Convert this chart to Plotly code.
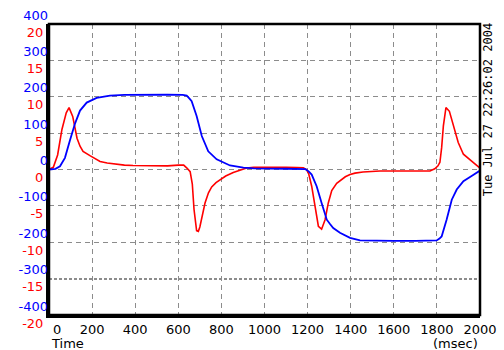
import plotly.graph_objects as go

# ---- data ----
time_red = [0, 20, 40, 60, 80, 93, 110, 121, 130, 144, 158, 190, 237, 270, 314, 350, 390, 450, 500,
            550, 600, 625, 640, 655, 665, 673, 685, 693, 700, 712, 724, 740, 755, 775, 793, 820, 855,
            890, 917, 950, 994, 1050, 1100, 1150, 1180, 1195, 1205, 1219, 1234, 1250, 1265, 1281,
            1296, 1312, 1335, 1350, 1375, 1397, 1420, 1457, 1500, 1536, 1613, 1700, 1768, 1790,
            1805, 1814, 1822, 1830, 1842, 1858, 1876, 1899, 1923, 1954, 1975, 2000]
red_vals = [0, 0.3, 2.0, 5.5, 7.8, 8.5, 7.3, 5.8, 4.3, 3.2, 2.5, 1.9, 1.1, 0.9, 0.7, 0.6, 0.55, 0.5,
            0.55, 0.5, 0.6, 0.6, 0.2, -0.3, -2.0, -5.5, -8.4, -8.5, -7.9, -6.2, -4.6, -3.2, -2.4,
            -1.8, -1.4, -0.9, -0.4, -0.05, 0.2, 0.3, 0.32, 0.3, 0.3, 0.28, 0.25, 0.0, -0.6, -2.3,
            -5.3, -7.8, -8.2, -6.9, -4.6, -2.9, -1.9, -1.6, -1.0, -0.7, -0.5, -0.35, -0.25, -0.2,
            -0.2, -0.2, -0.2, 0.1, 0.5, 1.0, 3.0, 6.0, 8.5, 8.0, 6.0, 3.7, 2.1, 1.4, 0.8, 0.2]

time_blue = [0, 30, 51, 74, 97, 121, 144, 175, 221, 283, 350, 450, 550, 620, 639, 652, 662, 685,
             709, 739, 778, 840, 902, 950, 1000, 1100, 1190, 1205, 1219, 1242, 1265, 1289, 1304,
             1319, 1350, 1397, 1443, 1500, 1600, 1700, 1799, 1812, 1822, 1845, 1869, 1892, 1923,
             1961, 2000]
blue_vals = [0, 2, 9, 32, 80, 127, 162, 184, 197, 203, 205, 206, 206, 205, 203, 195, 188, 147, 92,
             50, 28, 11, 5, 3, 2, 2, 1, -5, -14, -46, -92, -138, -150, -161, -174, -188, -195,
             -196, -196, -196, -195, -190, -184, -138, -83, -55, -32, -18, -3]

x_ticks = [0, 200, 400, 600, 800, 1000, 1200, 1400, 1600, 1800, 2000]
x_ticktext = ["\u00a0\u00a0\u00a0\u00a00", "200", "400", "600", "800", "1000", "1200", "1400",
              "1600", "1800", "2000"]
red_ticks = [-20, -15, -10, -5, 0, 5, 10, 15, 20]
red_ticktext = ["-20", "-15", "-10", "-5", "0", "5", "10", "15", "20"]
blue_ticks = [-400, -300, -200, -100, 0, 100, 200, 300, 400]
blue_ticktext = ["-400", "-300", "-200", "-100", "0", "100", "200", "300", "400"]
grid_dashed = [-10, -5, 0, 5, 10, 15]
grid_dotted = [-15]

FONT = "DejaVu Sans"
GRID = "#8c8c8c"

fig = go.Figure()
fig.add_trace(go.Scatter(x=time_red, y=red_vals, mode="lines",
                         line=dict(color="#ff0000", width=1.6), yaxis="y"))
fig.add_trace(go.Scatter(x=time_blue, y=blue_vals, mode="lines",
                         line=dict(color="#0000ff", width=1.8), yaxis="y2"))

fig.update_layout(
    template="none",
    width=504, height=350,
    margin=dict(l=49, r=24, t=24, b=35, autoexpand=False),
    paper_bgcolor="white", plot_bgcolor="white",
    showlegend=False,
    font=dict(family=FONT, size=13, color="black"),
    xaxis=dict(range=[0, 2000], tickvals=x_ticks, ticktext=x_ticktext, automargin=False,
               showgrid=True, gridcolor=GRID, griddash="5px,4px", gridwidth=1,
               zeroline=False, showline=True, linecolor="black", linewidth=3,
               ticks="", tickfont=dict(color="black", size=13)),
    yaxis=dict(range=[-20, 20], tickvals=red_ticks, ticktext=red_ticktext, automargin=False,
               showgrid=False, zeroline=False, showline=True, linecolor="black", linewidth=3,
               ticks="", tickfont=dict(color="#ff0000", size=13), ticklabelshift=8),
    yaxis2=dict(range=[-400, 400], tickvals=blue_ticks, ticktext=blue_ticktext, automargin=False,
                overlaying="y", side="left", showgrid=False, zeroline=False, showline=False,
                ticks="", tickfont=dict(color="#0000ff", size=13), ticklabelshift=-9),
    yaxis3=dict(range=[-20, 20], tickvals=grid_dashed, showticklabels=False, automargin=False,
                overlaying="y", side="left", showgrid=True, gridcolor=GRID,
                griddash="5px,4px", gridwidth=1, zeroline=False, showline=False, ticks=""),
    yaxis4=dict(range=[-20, 20], tickvals=grid_dotted, showticklabels=False, automargin=False,
                overlaying="y", side="left", showgrid=True, gridcolor=GRID,
                griddash="3px,2px", gridwidth=1.5, zeroline=False, showline=False, ticks=""),
    shapes=[dict(type="rect", xref="paper", yref="paper", x0=0, x1=1, y0=0, y1=1,
                 line=dict(color="black", width=2.5), layer="above")],
    annotations=[
        dict(text="Time", xref="paper", yref="paper", x=0.0, y=-0.065, xanchor="left",
             yanchor="top", showarrow=False, font=dict(size=13)),
        dict(text="(msec)", xref="paper", yref="paper", x=1.0, y=-0.065, xanchor="right",
             yanchor="top", showarrow=False, font=dict(size=13)),
        dict(text="Tue Jul 27 22:26:02 2004", xref="paper", yref="paper", x=0.998, y=0.704,
             xanchor="left", yanchor="middle", textangle=-90, showarrow=False,
             font=dict(family="DejaVu Sans Mono", size=12)),
    ],
)
# grid-only axes need a trace reference to render; attach invisible copies
fig.add_trace(go.Scatter(x=time_red, y=red_vals, mode="lines", yaxis="y3",
                         line=dict(width=0), hoverinfo="skip", opacity=0))
fig.add_trace(go.Scatter(x=time_red, y=red_vals, mode="lines", yaxis="y4",
                         line=dict(width=0), hoverinfo="skip", opacity=0))
# keep data traces on top of the grid
fig.data = (fig.data[2], fig.data[3], fig.data[0], fig.data[1])

fig.write_html("out.html", config={"displayModeBar": False},
               post_script="document.body.style.margin='0';document.body.style.padding='0';")
